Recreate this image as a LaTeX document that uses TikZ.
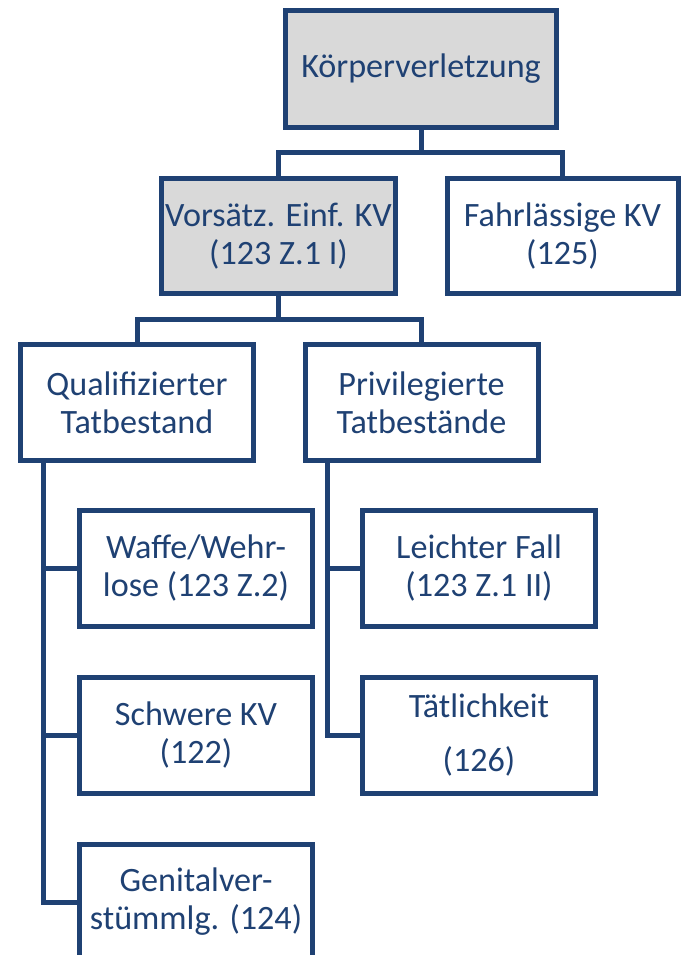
\documentclass[tikz,border=0pt]{standalone}
\usepackage{fontspec}
\setmainfont{Carlito}
\usetikzlibrary{calc}
\definecolor{navy}{RGB}{31,65,115}
\definecolor{boxgray}{RGB}{217,217,217}
\begin{document}
\begin{tikzpicture}[x=0.75pt,y=-0.75pt,
  box/.style={draw=navy, line width=3.75pt, fill=white, text=navy, align=center,
    minimum width=233*0.75pt, minimum height=116*0.75pt, inner sep=0pt,
    font=\fontsize{25.6}{28.5}\selectfont},
  graybox/.style={box, fill=boxgray},
  conn/.style={draw=navy, line width=3.75pt, line join=miter}]
\useasboundingbox (0,0) rectangle (681,955);
\clip (0,0) rectangle (681,955);
% connectors
\coordinate (j1) at (0,153);
\coordinate (j2) at (0,319);
\coordinate (qt) at (43,0);
\coordinate (pt) at (327,0);
\node[graybox, minimum width=271*0.75pt, minimum height=117*0.75pt] (kv) at (421,69) {Körperverletzung};
\node[graybox, minimum width=234*0.75pt, minimum height=115*0.75pt] (vors) at (278.5,236) {Vorsätz. Einf. KV\\(123 Z.1 I)};
\node[box, minimum width=231*0.75pt, minimum height=115*0.75pt] (fahr) at (562.5,236) {Fahrlässige KV\\(125)};
\node[box] (qual) at (137,402.5) {Qualifizierter\\Tatbestand};
\node[box] (priv) at (421.5,402.5) {Privilegierte\\Tatbestände};
\node[box] (waffe) at (196,568.5) {Waffe/Wehr-\\lose (123 Z.2)};
\node[box] (schwere) at (196,735) {Schwere KV\\(122)};
\node[box] (genital) at (196,902) {Genitalver-\\stümmlg. (124)};
\node[box] (leicht) at (479,568.5) {Leichter Fall\\(123 Z.1 II)};
\node[box] (taet) at (479,735) {Tätlichkeit\\[12pt](126)};
\draw[conn] (kv.south) -- (kv.south |- j1);
\draw[conn] (vors.north) |- (vors.north |- j1) -| (fahr.north);
\draw[conn] (vors.south) -- (vors.south |- j2);
\draw[conn] (qual.north) |- (qual.north |- j2) -| (priv.north);
\draw[conn] (qual.south -| qt) |- (genital.west);
\draw[conn] (waffe.west -| qt) -- (waffe.west);
\draw[conn] (schwere.west -| qt) -- (schwere.west);
\draw[conn] (priv.south -| pt) |- (taet.west);
\draw[conn] (leicht.west -| pt) -- (leicht.west);
\end{tikzpicture}
\end{document}
